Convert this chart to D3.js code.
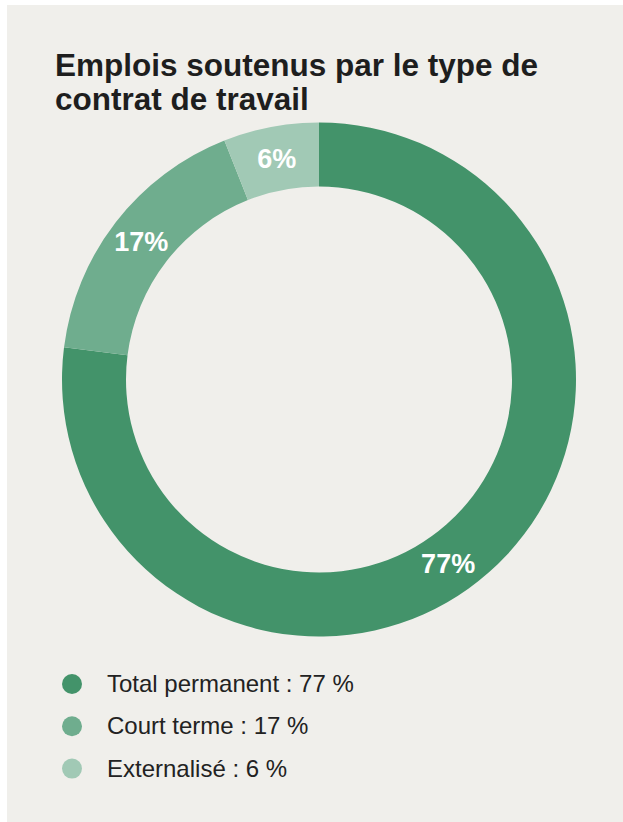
<!DOCTYPE html>
<html>
<head>
<meta charset="utf-8">
<script src="https://cdn.jsdelivr.net/npm/d3@7"></script>
<style>
  html, body { margin: 0; padding: 0; background: #ffffff; }
  svg { display: block; }
</style>
</head>
<body>
<svg id="chart" width="623" height="822"></svg>
<script>
// Jobs supported, by type of employment contract
const titleLines = ["Emplois soutenus par le type de", "contrat de travail"];
const categories = ["Total permanent", "Court terme", "Externalisé"];
const shares = [77, 17, 6];
const colors = ["#43936a", "#6fad8e", "#a1c9b5"];
// where along each slice its value label sits (0 = start, 1 = end)
const labelAlong = [0.523, 0.5, 0.5];

const width = 623, height = 822;
const svg = d3.select("#chart");

svg.append("rect")
  .attr("x", 7).attr("y", 5)
  .attr("width", width - 7).attr("height", height - 5)
  .attr("fill", "#f0efeb");

const title = svg.append("text")
  .attr("font-family", "'Liberation Sans', Arial, sans-serif")
  .attr("font-weight", "bold")
  .attr("font-size", 31.5)
  .attr("fill", "#1e1e1e");
titleLines.forEach((line, i) => {
  title.append("tspan")
    .attr("x", 55)
    .attr("y", 76 + i * 34)
    .text(line);
});

const cx = 319, cy = 379.5;
const outerR = 257, innerR = 193;

const data = categories.map((c, i) => ({ name: c, value: shares[i], color: colors[i], t: labelAlong[i] }));

const pie = d3.pie().value(d => d.value).sort(null);
const arc = d3.arc().innerRadius(innerR).outerRadius(outerR);

const g = svg.append("g").attr("transform", `translate(${cx},${cy})`);
const arcs = pie(data);

g.selectAll("path.slice")
  .data(arcs)
  .join("path")
  .attr("class", "slice")
  .attr("d", arc)
  .attr("fill", d => d.data.color);

const labelR = (innerR + outerR) / 2;
g.selectAll("text.value")
  .data(arcs)
  .join("text")
  .attr("class", "value")
  .attr("x", d => labelR * Math.sin(d.startAngle + (d.endAngle - d.startAngle) * d.data.t))
  .attr("y", d => -labelR * Math.cos(d.startAngle + (d.endAngle - d.startAngle) * d.data.t))
  .attr("dy", "0.35em")
  .attr("text-anchor", "middle")
  .attr("font-family", "'Liberation Sans', Arial, sans-serif")
  .attr("font-weight", "bold")
  .attr("font-size", 27)
  .attr("fill", "#ffffff")
  .text(d => d.data.value + "%");

// legend
const legend = svg.append("g").attr("transform", "translate(72,684)");
const rows = legend.selectAll("g")
  .data(data)
  .join("g")
  .attr("transform", (d, i) => `translate(0,${i * 42.3})`);
rows.append("circle")
  .attr("r", 10)
  .attr("fill", d => d.color);
rows.append("text")
  .attr("x", 35)
  .attr("y", 8)
  .attr("font-family", "'Liberation Sans', Arial, sans-serif")
  .attr("font-size", 24)
  .attr("fill", "#222222")
  .text(d => `${d.name} : ${d.value} %`);
</script>
</body>
</html>
